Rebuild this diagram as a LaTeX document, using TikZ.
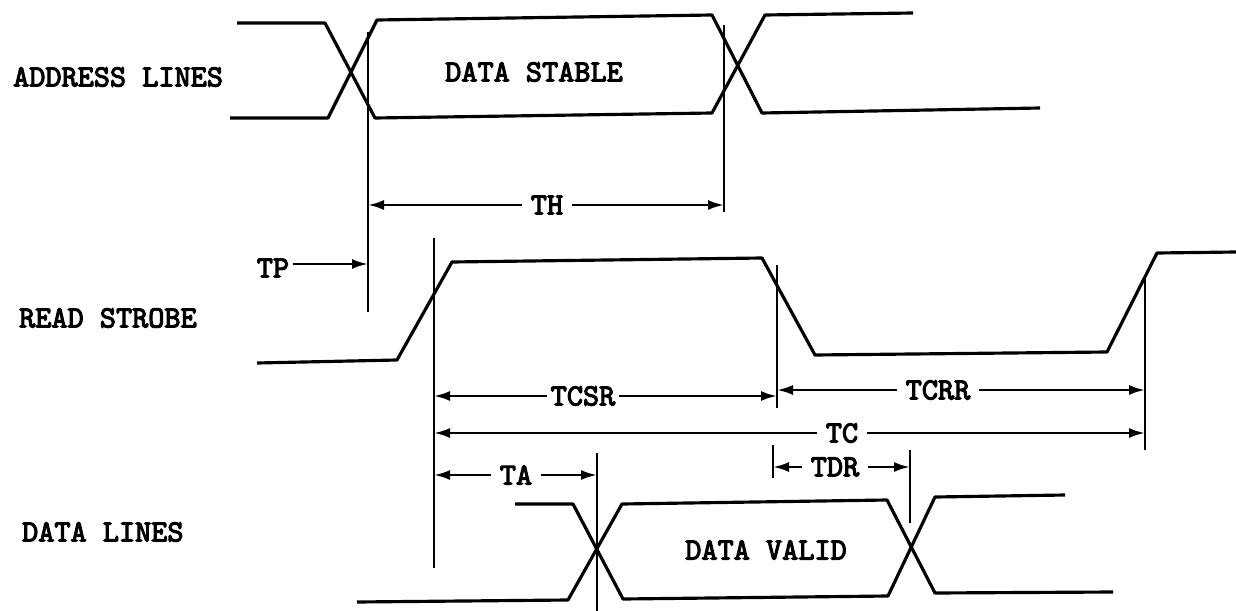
\documentclass[tikz,border=0pt]{standalone}
\usepackage{fontspec}
\newfontfamily\typewriter[FakeBold=3.5]{lmmono10-regular.otf}
\usetikzlibrary{arrows.meta}

\tikzset{
  sig/.style={line width=1.8pt, line join=round},
  guide/.style={line width=1.5pt},
  dim/.style={line width=1.4pt, -{Latex[length=3.2mm,width=2mm]}},
  lbl/.style={font=\typewriter\fontsize{17.5}{20}\selectfont, inner xsep=5pt, inner ysep=1pt},
}

\begin{document}
\begin{tikzpicture}[x=0.02cm,y=-0.02cm]
  \useasboundingbox (0,0) rectangle (1236,611);

  \node[lbl, anchor=west] (addr) at (4,77) {ADDRESS LINES};
  \node[lbl, anchor=west] (strobe) at (10,318) {READ STROBE};
  \node[lbl, anchor=west] (data) at (13,532) {DATA LINES};

  \draw[sig] (237,23) -- (325,23) -- (375,118) -- (712,113) -- (765,15) -- (913,13);
  \draw[sig] (230,118) -- (328,118) -- (377,20) -- (712,15) -- (762,113) -- (1040,108);
  \node[lbl] (stable) at (534,72) {DATA STABLE};

  \draw[sig] (257,363) -- (397,360) -- (452,262) -- (762,258) -- (815,355)
    -- (1107,352) -- (1157,253) -- (1236,252);

  \draw[sig] (515,504) -- (573,504) -- (623,599) -- (888,596) -- (935,497) -- (1065,495);
  \draw[sig] (357,602) -- (568,600) -- (622,504) -- (887,500) -- (935,593) -- (1113,592);
  \node[lbl] (valid) at (766,550) {DATA VALID};

  \draw[guide] (368,32) coordinate (a1) -- (368,312);
  \draw[guide] (724,25) coordinate (a2) -- (724,212);
  \draw[guide] (434,238) coordinate (r1) -- (434,568);
  \draw[guide] (777,265) coordinate (r2) -- (777,408);
  \draw[guide] (1145,278) coordinate (r3) -- (1145,450);
  \draw[guide] (773,445) coordinate (t1) -- (773,478);
  \draw[guide] (597,453) coordinate (d1) -- (597,611);
  \draw[guide] (910,450) coordinate (d2) -- (910,523);

  \node[lbl] (th) at (547,205) {TH};
  \draw[dim] (th) -- (th -| a1);
  \draw[dim] (th) -- (th -| a2);

  \node[lbl, inner xsep=2pt] (tp) at (273,268) {TP};
  \draw[dim] (tp.east) ++(0,-4) coordinate (tpfoot) -- (tpfoot -| a1);

  \node[lbl, inner xsep=2pt] (tcsr) at (583,396) {TCSR};
  \draw[dim] (tcsr) -- (tcsr -| r1);
  \draw[dim] (tcsr) -- (tcsr -| r2);

  \node[lbl] (tcrr) at (938,390) {TCRR};
  \draw[dim] (tcrr) -- (tcrr -| r2);
  \draw[dim] (tcrr) -- (tcrr -| r3);

  \node[lbl] (tc) at (842,433) {TC};
  \draw[dim] (tc) -- (tc -| r1);
  \draw[dim] (tc) -- (tc -| r3);

  \node[lbl] (ta) at (516,475) {TA};
  \draw[dim] (ta) -- (ta -| r1);
  \draw[dim] (ta) -- (ta -| d1);

  \node[lbl] (tdr) at (835,467) {TDR};
  \draw[dim] (tdr) -- (tdr -| t1);
  \draw[dim] (tdr) -- (tdr -| d2);
\end{tikzpicture}
\end{document}
